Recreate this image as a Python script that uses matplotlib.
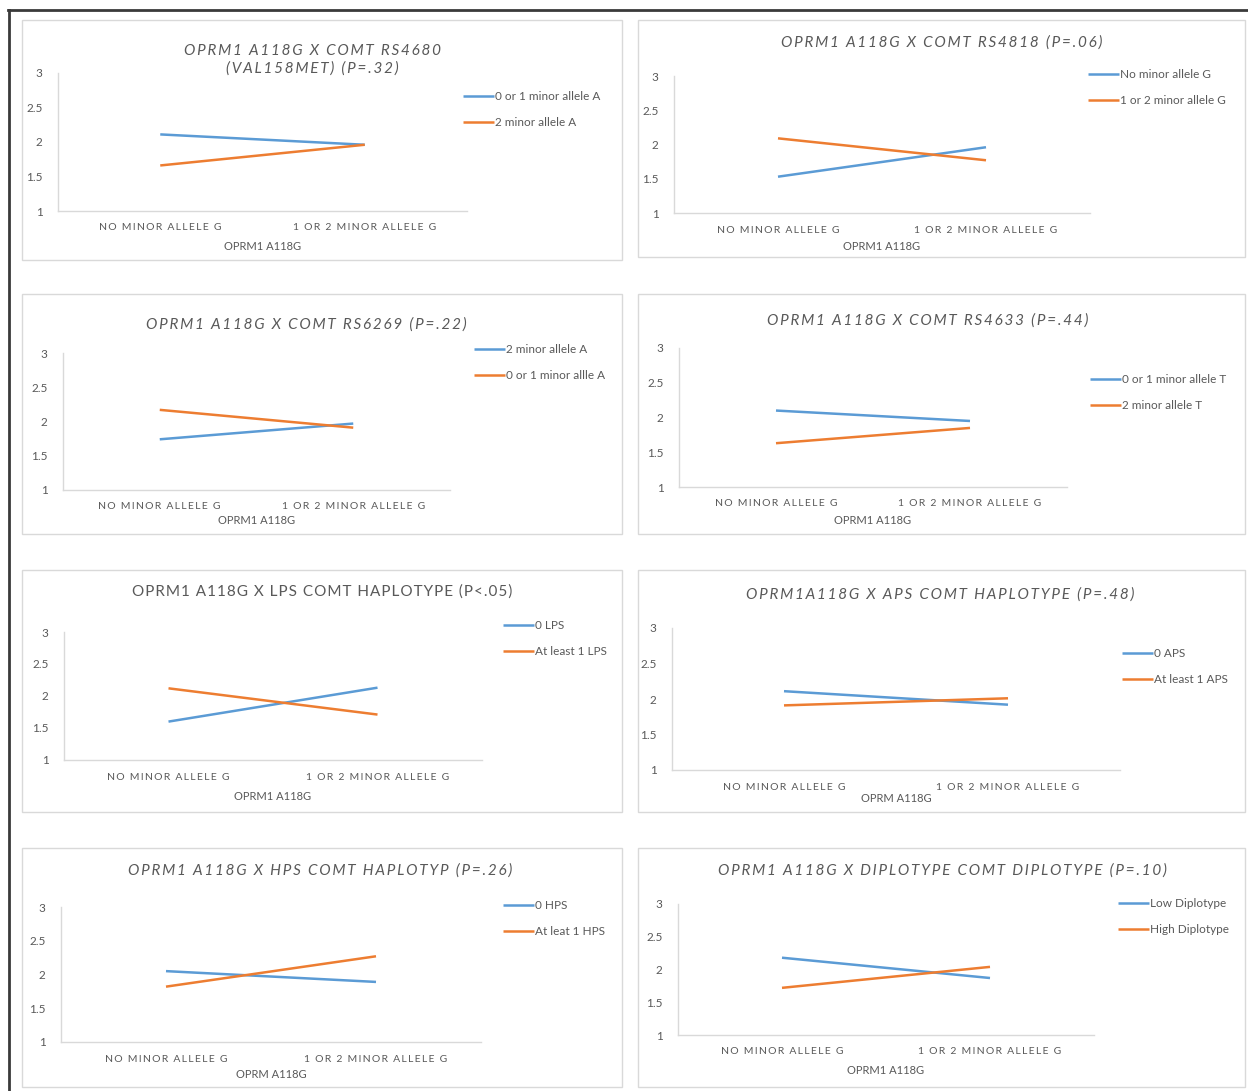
import matplotlib
matplotlib.use("Agg")
import matplotlib.pyplot as plt
from matplotlib.patches import Rectangle
from matplotlib.lines import Line2D

# ---------------- data ----------------
categories = ["NO MINOR ALLELE G", "1 OR 2 MINOR ALLELE G"]
y_ticks = [1, 1.5, 2, 2.5, 3]
y_tick_labels = ["1", "1.5", "2", "2.5", "3"]

titles = [
    "OPRM1 A118G X COMT RS4680\n(VAL158MET) (P=.32)",
    "OPRM1 A118G X COMT RS4818 (P=.06)",
    "OPRM1 A118G X COMT RS6269 (P=.22)",
    "OPRM1 A118G X COMT RS4633 (P=.44)",
    "OPRM1 A118G X LPS COMT HAPLOTYPE (P<.05)",
    "OPRM1A118G X APS COMT HAPLOTYPE (P=.48)",
    "OPRM1 A118G X HPS COMT HAPLOTYP (P=.26)",
    "OPRM1 A118G X DIPLOTYPE COMT DIPLOTYPE (P=.10)",
]
title_italic = [True, True, True, True, False, True, True, True]

x_labels = ["OPRM1 A118G", "OPRM1 A118G", "OPRM1 A118G", "OPRM1 A118G",
            "OPRM1 A118G", "OPRM A118G", "OPRM A118G", "OPRM1 A118G"]

blue_labels = ["0 or 1 minor allele A", "No minor allele G", "2 minor allele A",
               "0 or 1 minor allele T", "0 LPS", "0 APS", "0 HPS", "Low Diplotype"]
orange_labels = ["2 minor allele A", "1 or 2 minor allele G", "0 or 1 minor allle A",
                 "2 minor allele T", "At least 1 LPS", "At least 1 APS",
                 "At leat 1 HPS", "High Diplotype"]

blue_values = [
    [2.11, 1.96],
    [1.53, 1.96],
    [1.74, 1.97],
    [2.10, 1.95],
    [1.60, 2.13],
    [2.11, 1.92],
    [2.05, 1.89],
    [2.18, 1.87],
]
orange_values = [
    [1.66, 1.96],
    [2.09, 1.77],
    [2.17, 1.91],
    [1.63, 1.85],
    [2.12, 1.71],
    [1.91, 2.01],
    [1.82, 2.27],
    [1.72, 2.04],
]

# ---------------- layout (pixels) ----------------
W, H = 1248, 1091
boxes = [(22, 20, 622, 260), (638, 20, 1245, 257), (22, 294, 622, 534), (638, 294, 1245, 534),
         (22, 570, 622, 812), (638, 570, 1245, 812), (22, 848, 622, 1087), (638, 848, 1245, 1087)]
axes_px = [(58, 73, 467, 211), (674, 76, 1090, 213), (63, 353, 450, 490), (679, 348, 1067, 487),
           (64, 632, 482, 760), (672, 628, 1120, 770), (61, 907, 481, 1042), (678, 904, 1094, 1035)]
title_pos = [(312, 60), (942, 43), (306, 325), (928, 321), (322, 592), (940, 595), (320, 871), (942, 871)]
title_spacing = [2, 2, 2, 2, 1, 2, 2, 2]
legend_pos = [(463, 97), (1088, 75), (474, 350), (1090, 380), (503, 626), (1122, 654), (503, 906), (1118, 904)]
xlabel_y = [247, 247, 521, 521, 796, 798, 1074, 1070]

BLUE = "#5B9BD5"
ORANGE = "#ED7D31"
TXT = "#595959"
GRID = "#D9D9D9"
FONT = ["Lato", "DejaVu Sans"]


def spaced(s, n=2):
    return ("\u200a" * n).join(s)


def fx(x):
    return x / W


def fy(y):
    return 1 - y / H


fig = plt.figure(figsize=(W / 100, H / 100), dpi=100)
fig.patch.set_facecolor("white")

# outer frame (top and left)
fig.add_artist(Line2D([fx(8), fx(W)], [fy(10), fy(10)], color="#3a3a3a", lw=2, transform=fig.transFigure))
fig.add_artist(Line2D([fx(9), fx(9)], [fy(10), fy(H)], color="#3a3a3a", lw=2, transform=fig.transFigure))

for i in range(8):
    bx0, by0, bx1, by1 = boxes[i]
    fig.add_artist(Rectangle((fx(bx0), fy(by1)), fx(bx1 - bx0), (by1 - by0) / H,
                             transform=fig.transFigure, facecolor="white",
                             edgecolor=GRID, lw=1.0, zorder=0))
    ax0, ay0, ax1, ay1 = axes_px[i]
    ax = fig.add_axes([fx(ax0), fy(ay1), fx(ax1 - ax0), (ay1 - ay0) / H])
    ax.set_facecolor("none")
    xs = list(range(len(categories)))
    lb, = ax.plot(xs, blue_values[i], color=BLUE, lw=1.8, solid_capstyle="butt")
    lo, = ax.plot(xs, orange_values[i], color=ORANGE, lw=1.8, solid_capstyle="butt")
    ax.set_xlim(-0.5, 1.5)
    ax.set_ylim(1, 3)
    ax.set_yticks(y_ticks)
    ax.set_yticklabels(y_tick_labels, family=FONT, fontsize=8.5, color=TXT)
    ax.set_xticks(xs)
    ax.set_xticklabels([spaced(c, 2) for c in categories], family=FONT, fontsize=7.5, color=TXT)
    ax.tick_params(axis="both", length=0)
    ax.tick_params(axis="y", pad=11)
    ax.tick_params(axis="x", pad=9)
    for s in ["top", "right"]:
        ax.spines[s].set_visible(False)
    for s in ["left", "bottom"]:
        ax.spines[s].set_color(GRID)
        ax.spines[s].set_linewidth(1.0)

    # title
    tx, ty = title_pos[i]
    fig.text(fx(tx), fy(ty),
             "\n".join(spaced(l, title_spacing[i]) for l in titles[i].split("\n")),
             ha="center", va="center", family=FONT, fontsize=11, color=TXT,
             style="italic" if title_italic[i] else "normal", linespacing=1.35)

    # x label
    fig.text(fx((ax0 + ax1) / 2), fy(xlabel_y[i]), x_labels[i], ha="center", va="center",
             family=FONT, fontsize=8, color=TXT)

    # legend
    lx, ly = legend_pos[i]
    leg = fig.legend([lb, lo], [blue_labels[i], orange_labels[i]],
                     loc="upper left", bbox_to_anchor=(fx(lx), fy(ly - 6)),
                     bbox_transform=fig.transFigure, frameon=False, borderpad=0,
                     borderaxespad=0, handlelength=2.6, handletextpad=0.15,
                     labelspacing=1.3, prop={"family": FONT, "size": 8.5})
    for t in leg.get_texts():
        t.set_color(TXT)

fig.savefig("out.png", dpi=100, facecolor="white")
